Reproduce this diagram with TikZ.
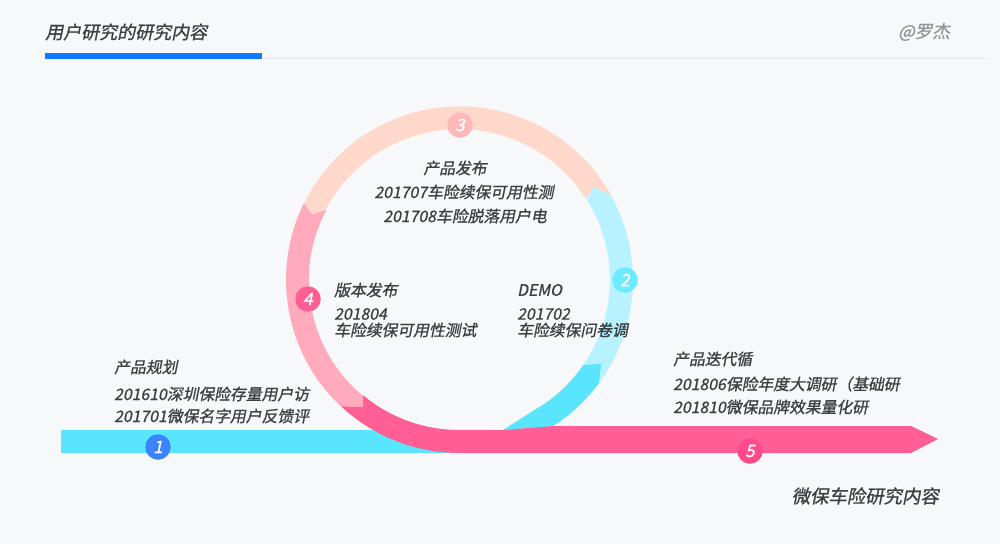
\documentclass[tikz,border=0pt]{standalone}
\usepackage{fontspec}
\setmainfont[FakeSlant=0.2,FakeBold=1.0]{Noto Sans CJK SC}
\usetikzlibrary{positioning}
\definecolor{pagebg}{HTML}{F7F8FA}
\definecolor{ink}{HTML}{3C3F44}
\definecolor{rulegrey}{HTML}{E6E8EE}
\definecolor{tabblue}{HTML}{0F7BFF}
\definecolor{barblue}{HTML}{5AE5FF}
\definecolor{paleblue}{HTML}{B8F1FF}
\definecolor{peach}{HTML}{FFD8CC}
\definecolor{palepink}{HTML}{FFABBD}
\definecolor{hotpink}{HTML}{FF5F95}
\definecolor{dotblue}{HTML}{3C83FF}
\definecolor{dotcyan}{HTML}{6CEBFF}
\definecolor{dotrose}{HTML}{FFB8B8}
\definecolor{dotpink}{HTML}{FF4B8B}
\tikzset{
  note/.style={anchor=west,inner sep=0pt,text=ink,font=\fontsize{15.8}{18}\selectfont},
  midnote/.style={note,anchor=center},
  badge/.style={circle,minimum size=25.5pt,inner sep=0pt,text=white,font=\fontsize{17}{18}\selectfont}
}
\begin{document}
\begin{tikzpicture}[x=1pt,y=-1pt]
      \useasboundingbox (0,0) rectangle (1000,544);
      \fill[pagebg] (0,0) rectangle (1000,544);
      \begin{scope}
        \fill[rulegrey] (45,57.8) rectangle (988,58.8);
        \fill[tabblue] (45,53) rectangle (262,58.5);
        \node[note,font=\fontsize{18}{20}\selectfont] (title) at (45,32) {用户研究的研究内容};
        \node[note,anchor=east,text=black!42,font=\fontsize{17.5}{20}\selectfont] (author) at (950,32) {@罗杰};
      \end{scope}
      \fill[barblue] (61,430) rectangle (448,453);
      \fill[paleblue] (599,383) arc[start angle=36.4,end angle=-29.3,radius=173.5] -- (593,187) -- (587,200) arc[start angle=-32.1,end angle=34.5,radius=150] -- cycle;
      \fill[barblue] (583,365) -- (601,364) -- (599,383) arc[start angle=36.4,end angle=57.4,radius=173.5] -- (503,430) -- (547,402) arc[start angle=54.3,end angle=34.5,radius=150] -- cycle;
      \fill[hotpink] (341,406) -- (363,407) -- (363,395.2) arc[start angle=129.8,end angle=90,radius=150] -- (503,430) -- (553,426) -- (911,426) -- (938,439) -- (911,453) -- (459.5,453) arc[start angle=90,end angle=133.2,radius=173.5] -- cycle;
      \fill[palepink] (304,203) arc[start angle=206.3,end angle=133.2,radius=173.5] -- (363,407) -- (363,396) arc[start angle=129.8,end angle=208,radius=150.5] -- (312,214) -- cycle;
      \fill[peach] (611,195) arc[start angle=-29.3,end angle=-153.7,radius=173.5] -- (312,214) -- (326,209) arc[start angle=-152,end angle=-32.1,radius=150.5] -- (593,187) -- cycle;
      \node[badge,fill=dotblue] (one) at (158,447) {1};
      \node[badge,fill=dotcyan] (two) at (625,280) {2};
      \node[badge,fill=dotrose] (three) at (460,125) {3};
      \node[badge,fill=hotpink] (four) at (308,299) {4};
      \node[badge,fill=dotpink] (five) at (750,451) {5};
      \node[note] (planhead) at (114,367) {产品规划};
      \node[note] (planone) at (114,394) {201610深圳保险存量用户访};
      \node[note] (plantwo) at (114,416) {201701微保名字用户反馈评};
      \node[midnote] (relhead) at (455,168) {产品发布};
      \node[midnote] (relone) at (464,192) {201707车险续保可用性测};
      \node[midnote] (reltwo) at (465,216) {201708车险脱落用户电};
      \node[note] (verhead) at (334,290) {版本发布};
      \node[note] (verdate) at (334,314) {201804};
      \node[note] (vertext) at (334,330) {车险续保可用性测试};
      \node[note] (demohead) at (517,290) {DEMO};
      \node[note] (demodate) at (517,314) {201702};
      \node[note] (demotext) at (517,330) {车险续保问卷调};
      \node[note] (iterhead) at (673,359) {产品迭代循};
      \node[note] (iterone) at (673,384) {201806保险年度大调研（基础研};
      \node[note] (itertwo) at (673,407) {201810微保品牌效果量化研};
      \node[note,anchor=east,font=\fontsize{18.4}{20}\selectfont] (caption) at (939,496) {微保车险研究内容};
    \end{tikzpicture}
\end{document}
